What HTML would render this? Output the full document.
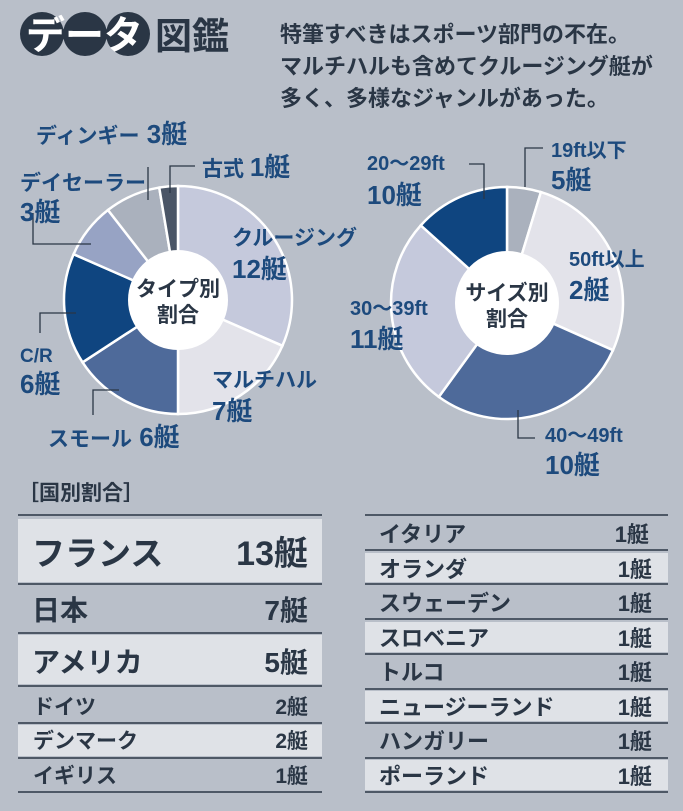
<!DOCTYPE html>
<html><head><meta charset="utf-8">
<style>
body{margin:0;width:683px;height:811px;background:#b9bfc9;overflow:hidden;font-family:"Liberation Sans","Noto Sans CJK JP",sans-serif;}
svg{display:block}
</style></head><body>
<svg id="s" width="683" height="811" viewBox="0 0 683 811" xmlns="http://www.w3.org/2000/svg" font-family="'Liberation Sans','Noto Sans CJK JP',sans-serif" font-weight="bold">
<g fill="#2a3645">
<circle cx="42" cy="34" r="22"/><circle cx="85" cy="34" r="22"/><circle cx="128" cy="34" r="22"/>
</g>
<text x="26" y="49" fill="#fff" font-size="39">データ</text>
<text x="155" y="49" fill="#2a3645" font-size="37">図鑑</text>
<g fill="#2a3645" font-size="22">
<text x="280" y="42">特筆すべきはスポーツ部門の不在。</text>
<text x="280" y="74">マルチハルも含めてクルージング艇が</text>
<text x="280" y="106">多く、多様なジャンルがあった。</text>
</g>
<g id="pies" stroke="#fff" stroke-width="2.5"></g>
<circle cx="178" cy="300" r="50" fill="#fff"/>
<circle cx="507" cy="303" r="52" fill="#fff"/>
<g fill="#2a3645" font-size="21" text-anchor="middle">
<text x="178" y="296">タイプ別</text><text x="178" y="322">割合</text>
<text x="507" y="300">サイズ別</text><text x="507" y="326">割合</text>
</g>
<g stroke="#2a3645" stroke-width="1.3" fill="none">
<polyline points="148,167 148,200"/>
<polyline points="195,166 170,166 170,193"/>
<polyline points="33,213 33,244 91,244"/>
<polyline points="40,333 40,313 76,313"/>
<polyline points="93,415 93,390 119,390"/>
<polyline points="525,187 525,148 543,148"/>
<polyline points="469,164 484,164 484,199"/>
<polyline points="518,410 518,438 535,438"/>
</g>
<g fill="#1d4a7d">
<text x="36" y="143" font-size="21">ディンギー<tspan font-size="26"> 3艇</tspan></text>
<text x="202" y="176" font-size="21">古式 <tspan font-size="26">1艇</tspan></text>
<text x="20" y="190" font-size="21">デイセーラー</text>
<text x="20" y="221" font-size="26">3艇</text>
<text x="232" y="245" font-size="21">クルージング</text>
<text x="232" y="278" font-size="26">12艇</text>
<text x="20" y="362" font-size="19">C/R</text>
<text x="20" y="393" font-size="26">6艇</text>
<text x="212" y="387" font-size="21">マルチハル</text>
<text x="212" y="420" font-size="26">7艇</text>
<text x="48" y="446" font-size="21">スモール<tspan font-size="26"> 6艇</tspan></text>
<text x="551" y="157" font-size="20">19ft以下</text>
<text x="551" y="189" font-size="26">5艇</text>
<text x="367" y="170" font-size="20">20～29ft</text>
<text x="367" y="204" font-size="26">10艇</text>
<text x="569" y="266" font-size="20">50ft以上</text>
<text x="569" y="299" font-size="26">2艇</text>
<text x="350" y="315" font-size="20">30～39ft</text>
<text x="350" y="348" font-size="26">11艇</text>
<text x="545" y="442" font-size="20">40～49ft</text>
<text x="545" y="474" font-size="26">10艇</text>
</g>
<text x="18" y="500" fill="#2a3645" font-size="21">［国別割合］</text>
<g fill="#dfe2e7">
<rect x="18" y="519" width="304" height="63"/>
<rect x="18" y="635" width="304" height="49"/>
<rect x="18" y="725" width="304" height="31"/>
<rect x="365" y="553" width="303" height="29"/>
<rect x="365" y="622" width="303" height="30"/>
<rect x="365" y="691" width="303" height="30"/>
<rect x="365" y="760" width="303" height="30"/>
</g>
<g stroke="#2a3645" stroke-width="1.5">
<line x1="18" y1="515" x2="322" y2="515"/><line x1="18" y1="584" x2="322" y2="584"/>
<line x1="18" y1="633" x2="322" y2="633"/><line x1="18" y1="686" x2="322" y2="686"/>
<line x1="18" y1="723" x2="322" y2="723"/><line x1="18" y1="758" x2="322" y2="758"/>
<line x1="18" y1="792" x2="322" y2="792"/>
<line x1="365" y1="515" x2="668" y2="515"/><line x1="365" y1="550" x2="668" y2="550"/>
<line x1="365" y1="584" x2="668" y2="584"/><line x1="365" y1="619" x2="668" y2="619"/>
<line x1="365" y1="654" x2="668" y2="654"/><line x1="365" y1="689" x2="668" y2="689"/>
<line x1="365" y1="723" x2="668" y2="723"/><line x1="365" y1="758" x2="668" y2="758"/>
<line x1="365" y1="792" x2="668" y2="792"/>
</g>
<g fill="#2a3645">
<text x="32" y="565" font-size="33">フランス</text><text x="308" y="565" font-size="34" text-anchor="end">13艇</text>
<text x="32" y="620" font-size="28">日本</text><text x="308" y="620" font-size="28" text-anchor="end">7艇</text>
<text x="32" y="672" font-size="28">アメリカ</text><text x="308" y="672" font-size="28" text-anchor="end">5艇</text>
<g font-size="21">
<text x="33" y="714">ドイツ</text><text x="308" y="714" text-anchor="end">2艇</text>
<text x="33" y="748">デンマーク</text><text x="308" y="748" text-anchor="end">2艇</text>
<text x="33" y="783">イギリス</text><text x="308" y="783" text-anchor="end">1艇</text>
</g>
<g font-size="22">
<text x="379" y="542">イタリア</text><text x="649" y="542" text-anchor="end">1艇</text>
<text x="379" y="577">オランダ</text><text x="652" y="577" text-anchor="end">1艇</text>
<text x="379" y="611">スウェーデン</text><text x="652" y="611" text-anchor="end">1艇</text>
<text x="379" y="646">スロベニア</text><text x="652" y="646" text-anchor="end">1艇</text>
<text x="379" y="680">トルコ</text><text x="652" y="680" text-anchor="end">1艇</text>
<text x="379" y="715">ニュージーランド</text><text x="652" y="715" text-anchor="end">1艇</text>
<text x="379" y="749">ハンガリー</text><text x="652" y="749" text-anchor="end">1艇</text>
<text x="379" y="784">ポーランド</text><text x="652" y="784" text-anchor="end">1艇</text>
</g></g>
</svg>
<script>
function pie(cx,cy,r,seg){var g=document.getElementById('pies');var a=0;
seg.forEach(function(s){var a2=s[0];var p=function(t){t=t*Math.PI/180;return [cx+r*Math.sin(t),cy-r*Math.cos(t)];};
var p1=p(a),p2=p(a2);var large=(a2-a)>180?1:0;
var e=document.createElementNS('http://www.w3.org/2000/svg','path');
e.setAttribute('d','M'+cx+','+cy+'L'+p1[0]+','+p1[1]+'A'+r+','+r+' 0 '+large+' 1 '+p2[0]+','+p2[1]+'Z');
e.setAttribute('fill',s[1]);g.appendChild(e);a=a2;});}
var k=360/38;
pie(178,300,114,[[12*k,'#c5c9dc'],[19*k,'#e3e3ea'],[25*k,'#4e6a9a'],[31*k,'#0f4580'],[34*k,'#97a3c4'],[37*k,'#aab1bd'],[360,'#4a5566']]);
pie(507,303,116,[[17,'#aab1bd'],[114,'#e3e3ea'],[216,'#4e6a9a'],[312,'#c5c9dc'],[360,'#0f4580']]);
</script>
</body></html>
